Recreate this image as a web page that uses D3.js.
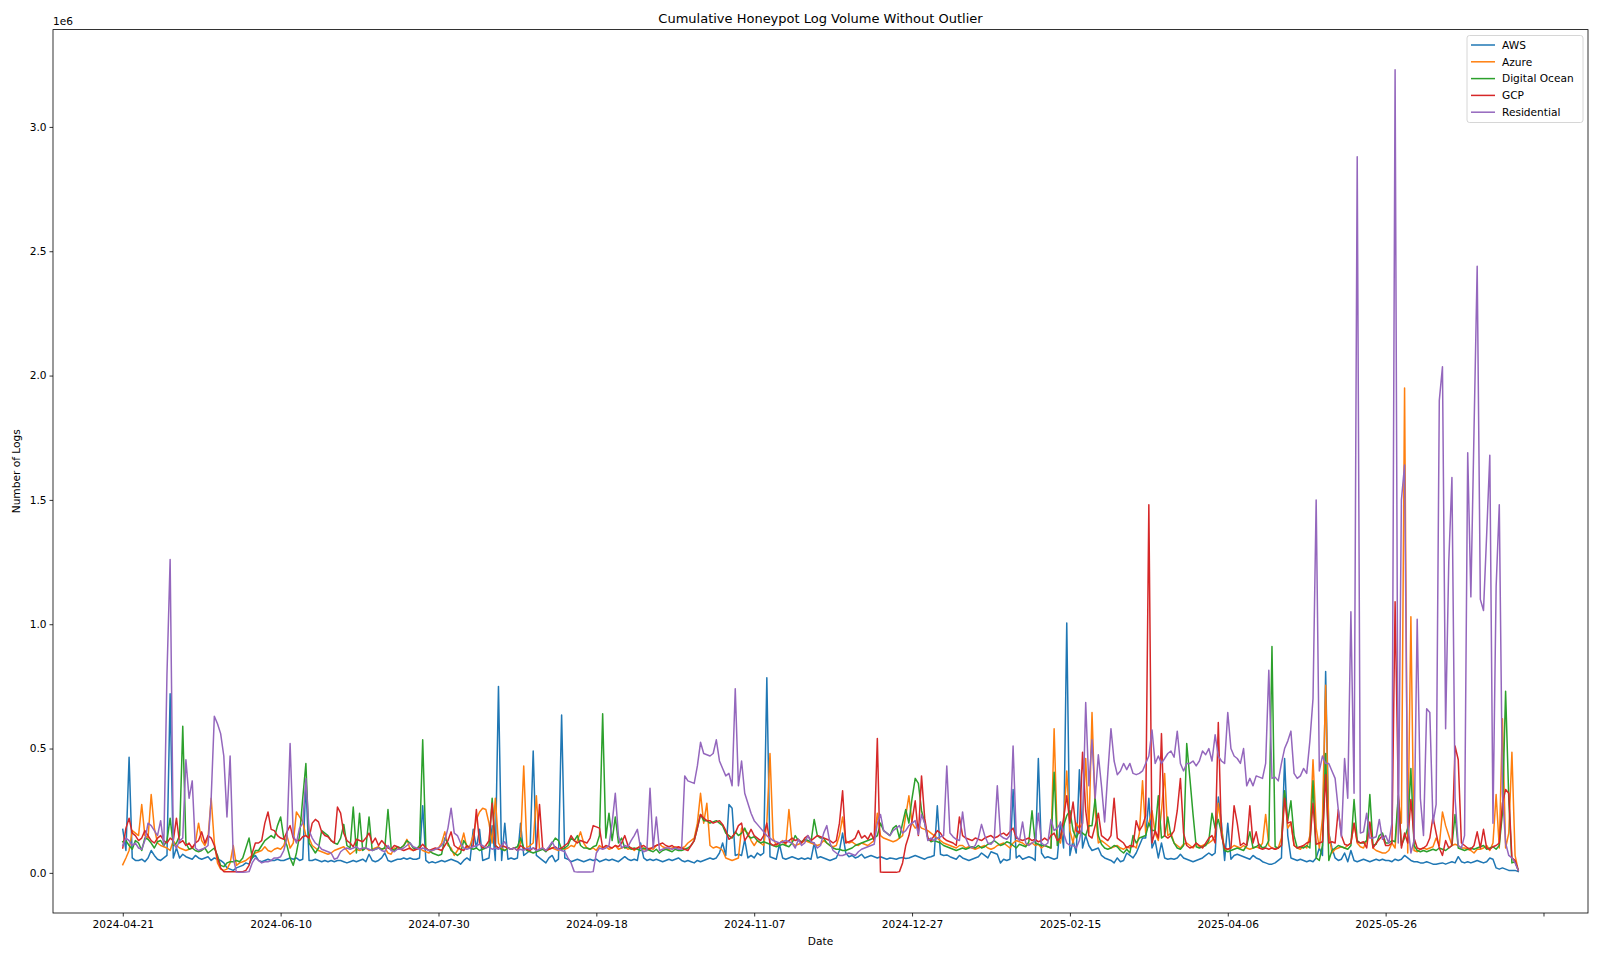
<!DOCTYPE html>
<html>
<head>
<meta charset="utf-8">
<script src="https://cdn.jsdelivr.net/npm/d3@7"></script>
<style>
  body { margin: 0; background: #ffffff; }
  svg { display: block; }
  text { font-family: "DejaVu Sans", sans-serif; fill: #000; }
</style>
</head>
<body>
<svg id="chart" width="1600" height="960"></svg>
<script>
// ---------------- DATA (values in thousands of logs, one per day) ----------------
const startDate = "2024-04-21";
const seriesNames = ["AWS", "Azure", "Digital Ocean", "GCP", "Residential"];
const tickDates = ["2024-04-21","2024-06-10","2024-07-30","2024-09-18","2024-11-07","2024-12-27","2025-02-15","2025-04-06","2025-05-26","2025-07-15"];
const tickLabels = ["2024-04-21","2024-06-10","2024-07-30","2024-09-18","2024-11-07","2024-12-27","2025-02-15","2025-04-06","2025-05-26",""];
const yTicks = [0, 500, 1000, 1500, 2000, 2500, 3000];
const yTickLabels = ["0.0", "0.5", "1.0", "1.5", "2.0", "2.5", "3.0"];

const aws = [
175,90,465,60,50,50,55,45,60,90,70,55,50,60,70,720,60,100,60,75,65,60,55,70,60,55,60,65,50,60,55,50,40,20,15,10,20,25,30,40,35,60,70,
50,45,50,55,50,50,55,50,50,55,60,55,60,50,55,360,50,50,55,50,45,50,45,50,45,50,50,45,40,45,50,45,50,55,45,75,50,45,50,60,80,50,45,50,55,
55,60,55,60,55,55,60,270,50,40,45,40,45,50,45,50,55,50,45,35,50,60,50,175,100,175,50,55,60,190,50,750,50,200,55,60,55,60,200,70,80,90,490,70,
60,50,40,60,70,45,55,635,60,55,45,50,55,50,45,50,55,50,55,45,50,55,50,55,50,45,55,65,55,50,55,50,120,60,50,55,50,55,50,45,50,55,50,55,60,
50,45,50,45,40,50,45,50,55,60,55,60,80,120,70,275,260,70,75,70,135,60,70,60,80,70,80,785,65,60,55,115,60,55,60,65,60,55,60,55,60,55,120,60,65,
60,55,50,55,60,90,160,80,65,70,60,65,75,60,65,70,65,60,65,60,55,60,58,55,60,62,58,60,65,70,65,60,55,62,65,70,270,75,70,72,65,60,55,70,
60,55,50,55,60,65,80,70,60,85,80,75,40,55,50,55,335,60,70,55,60,65,60,50,460,80,60,65,60,55,60,205,100,1005,70,130,80,415,100,150,110,90,95,100,70,
60,55,50,40,60,45,50,80,70,60,80,110,140,140,300,100,130,60,120,60,55,58,55,60,75,60,55,50,45,50,55,60,70,80,70,80,305,200,50,200,55,70,75,70,65,
60,55,70,60,55,45,40,35,35,40,50,60,460,150,60,55,50,55,50,45,50,45,60,100,70,810,160,100,60,50,55,80,45,90,50,45,50,55,50,45,50,55,50,55,50,
50,45,55,50,55,70,60,50,45,45,40,40,45,40,35,35,38,40,35,40,45,40,65,45,40,45,40,45,50,45,40,45,60,55,20,15,20,15,10,10,10,5
];

const azure = [
33,60,90,170,160,150,275,150,140,315,180,120,110,105,100,90,130,110,100,95,90,95,100,120,200,130,110,140,300,120,40,15,10,15,40,110,30,40,45,50,60,70,80,
85,90,105,90,85,95,100,95,110,150,100,120,245,225,205,150,140,110,100,90,85,80,75,80,90,95,100,105,90,75,85,95,90,95,100,90,95,100,105,95,100,80,75,100,95,
100,110,135,95,90,95,100,90,85,80,90,95,100,120,165,110,100,70,90,110,160,100,110,150,215,245,260,255,200,120,300,120,100,90,100,95,100,90,120,430,100,110,120,310,
95,100,90,95,100,95,90,100,95,100,110,105,130,165,120,100,95,100,90,110,100,105,95,100,110,95,100,105,95,100,90,100,110,95,90,100,95,110,115,105,100,95,100,105,100,
100,105,120,130,140,200,320,200,280,110,100,105,100,90,60,55,50,55,60,180,170,160,130,110,130,120,110,200,480,140,110,120,130,110,255,120,110,115,120,130,125,120,115,110,115,
130,120,110,105,110,150,225,130,120,125,115,110,120,115,110,120,130,240,150,140,135,130,125,130,140,150,230,310,200,180,195,180,175,170,160,150,140,130,120,115,110,105,100,110,
110,100,105,100,95,100,105,110,100,95,100,110,115,120,110,100,120,130,125,120,110,115,120,110,115,100,110,105,100,580,140,120,200,410,170,120,200,180,200,460,160,645,250,120,130,
120,110,100,105,110,100,95,105,100,110,100,160,370,160,200,250,160,130,250,400,150,160,120,110,100,115,120,110,100,120,105,110,115,120,130,150,280,180,90,95,100,110,105,100,110,
100,95,100,105,100,120,235,110,100,95,100,140,320,180,200,110,100,95,110,100,150,455,180,100,220,755,160,80,95,100,105,100,110,120,200,120,105,100,130,200,100,90,85,80,80,
90,120,100,300,200,1950,80,1030,90,85,95,100,95,100,105,140,110,245,190,150,110,115,110,100,100,95,90,80,95,95,100,110,90,120,315,100,620,100,160,485,70,10
];

const digitalOcean = [
125,130,110,95,130,120,90,140,135,120,100,125,130,110,130,220,110,120,150,590,120,95,100,90,85,90,100,80,90,100,70,30,25,40,45,45,50,45,60,100,140,60,90,
90,110,130,140,150,140,190,225,140,110,60,30,80,150,300,440,120,100,80,100,170,160,150,130,120,115,140,195,110,100,265,80,240,90,100,225,90,95,100,95,100,255,100,90,105,
100,110,130,120,100,95,110,535,100,90,80,75,70,75,140,120,90,80,70,80,130,110,100,95,100,90,95,100,110,300,110,100,95,90,100,95,100,105,140,100,90,85,80,85,
90,95,85,100,120,140,130,95,100,110,140,130,150,110,100,100,95,105,110,150,640,140,240,130,225,120,140,100,105,95,100,95,90,100,95,90,85,95,80,90,95,90,85,95,90,
90,95,100,110,130,180,235,210,210,200,205,210,200,190,160,150,140,165,150,160,180,150,140,145,130,120,125,120,115,110,105,110,115,110,105,120,150,130,125,135,130,125,215,150,140,
140,120,110,100,95,95,90,90,95,100,110,115,120,125,130,135,140,150,200,170,160,150,180,190,140,200,255,200,300,380,360,250,200,140,125,130,125,120,110,105,100,95,90,95,
100,95,100,105,100,110,100,105,115,120,130,120,110,115,125,120,110,100,115,110,105,125,250,120,115,110,110,105,100,405,110,150,190,230,250,170,140,170,160,150,190,190,300,150,115,
100,95,100,110,105,90,80,95,80,150,120,140,145,150,200,170,170,310,140,150,225,150,120,100,95,110,520,380,235,105,100,105,110,130,240,180,215,160,90,85,90,95,100,95,90,
110,165,100,105,115,100,105,130,910,105,100,110,330,210,290,150,100,105,100,110,100,370,60,50,110,480,50,90,100,110,105,100,95,110,295,130,120,120,130,315,110,115,150,160,120,
120,130,125,310,110,140,180,420,110,90,85,90,85,90,95,90,100,95,90,100,110,235,100,95,90,95,100,95,100,105,110,95,100,105,95,110,240,730,300,40,45,10
];

const gcp = [
100,180,220,160,150,130,140,170,150,130,120,140,150,130,120,140,130,220,120,130,110,120,100,120,130,165,120,150,140,110,60,20,5,5,5,5,5,5,5,10,30,80,120,
120,130,200,245,175,170,150,140,135,165,190,140,130,130,145,150,140,200,215,205,165,150,145,130,120,265,240,160,130,120,105,135,130,125,140,160,120,140,110,130,115,100,95,110,105,
95,90,95,100,90,95,100,115,100,90,95,100,95,90,110,130,165,110,100,95,90,110,100,110,255,120,100,110,130,280,110,100,110,105,100,95,100,90,110,100,95,90,100,95,
275,100,90,95,100,105,95,100,110,120,150,130,120,130,125,120,140,190,185,180,100,110,105,100,110,105,120,150,110,100,95,100,105,110,100,95,105,110,115,120,110,105,110,100,105,
100,95,90,110,130,180,235,220,210,210,200,205,210,195,170,135,145,160,190,200,130,150,175,150,140,130,150,200,120,110,115,120,125,120,130,140,130,135,120,140,150,130,140,150,145,
140,135,130,120,130,200,330,120,125,130,140,170,140,150,135,160,130,540,3,2,2,2,2,2,5,40,110,150,210,290,150,390,220,140,130,150,170,160,140,130,125,120,110,225,
150,140,135,130,140,135,130,140,145,150,140,145,155,160,150,165,180,140,135,130,135,140,130,135,125,130,140,130,150,160,130,140,220,310,200,285,170,160,485,250,150,140,190,240,150,
140,130,150,300,140,130,120,100,110,105,210,170,190,230,1480,120,170,140,560,150,140,150,170,250,380,160,110,100,105,120,110,100,120,140,150,120,605,150,100,95,100,270,200,110,120,
110,270,120,165,100,95,100,95,100,95,100,110,300,200,205,110,100,105,110,120,125,280,115,120,125,395,120,125,120,255,150,115,110,120,200,125,120,125,100,205,100,120,135,150,110,
110,120,1090,320,100,160,120,295,140,100,95,100,110,140,225,160,100,70,130,100,110,510,455,120,110,100,95,110,165,100,175,100,95,105,110,120,280,335,320,60,50,10
];

const residential = [
110,140,130,110,120,100,95,130,200,190,170,150,210,110,800,1260,120,100,130,140,455,300,370,100,90,95,100,110,300,630,600,560,470,225,470,60,3,2,2,3,5,40,60,
50,40,45,45,50,60,60,65,90,140,520,150,120,180,200,380,170,140,120,110,95,90,85,80,55,60,85,95,100,95,100,105,95,100,100,95,90,95,100,90,85,110,90,85,95,
95,100,110,120,105,100,95,100,95,90,90,95,100,110,130,180,260,160,150,120,100,95,100,105,110,115,110,100,105,95,100,95,110,125,100,95,100,90,95,90,100,95,100,90,
95,100,90,105,125,100,95,90,85,60,40,5,3,3,3,3,3,5,80,100,95,100,110,200,320,150,100,110,105,130,150,175,100,85,90,340,100,225,90,95,100,100,95,100,95,
95,390,370,365,360,430,525,480,475,470,480,535,450,420,390,400,350,740,350,450,320,280,240,210,195,180,165,150,140,130,125,120,125,130,125,120,100,135,110,120,150,125,120,100,110,
160,190,120,90,80,70,70,75,80,75,70,85,95,100,105,110,115,200,235,170,160,150,170,180,190,160,170,190,200,210,155,235,200,130,140,130,140,145,150,430,160,145,135,130,
245,140,110,100,110,140,195,150,120,115,130,350,150,140,135,150,510,150,130,205,120,110,120,130,240,120,110,120,215,170,180,200,160,120,110,110,100,130,200,685,350,535,300,475,350,
205,400,580,450,395,410,440,415,440,400,395,400,410,440,470,575,440,470,440,460,480,490,465,570,440,410,440,440,450,430,450,490,475,500,450,555,470,450,440,645,500,470,460,440,500,
350,380,350,390,385,380,440,815,380,385,370,440,500,530,570,400,380,390,420,400,530,700,1500,410,470,440,440,410,380,255,145,460,300,1050,320,2880,160,165,240,140,140,145,215,135,
150,120,200,3230,120,1500,1640,200,80,130,1020,300,150,660,645,200,275,1900,2035,580,1250,1590,300,110,100,150,1690,1110,1780,2440,1100,1055,1360,1680,200,1150,1480,320,120,70,60,40,10
];

const seriesValues = [aws, azure, digitalOcean, gcp, residential];
const seriesColors = ["#1f77b4", "#ff7f0e", "#2ca02c", "#d62728", "#9467bd"];

// ---------------- LAYOUT ----------------
const W = 1600, H = 960;
const plot = { left: 53, right: 1588, top: 29.6, bottom: 913 };
const fontTick = 10.6, fontTitle = 13;

const svg = d3.select("#chart");
const parse = d3.utcParse("%Y-%m-%d");
const t0 = parse(startDate);
const nDays = d3.max(seriesValues, a => a.length);
const dates = d3.range(nDays).map(i => d3.utcDay.offset(t0, i));

// x scale with matplotlib-like 5% margins
const xExt = d3.extent(dates);
const xSpan = xExt[1] - xExt[0];
const x = d3.scaleUtc()
  .domain([new Date(+xExt[0] - 0.05 * xSpan), new Date(+xExt[1] + 0.05 * xSpan)])
  .range([plot.left, plot.right]);

const allVals = seriesValues.flat();
const yMin = d3.min(allVals), yMax = d3.max(allVals);
const ySpan = yMax - yMin;
const y = d3.scaleLinear()
  .domain([Math.min(0, yMin) - 0.05 * ySpan, yMax + 0.05 * ySpan])
  .range([plot.bottom, plot.top]);

// series lines
const line = d3.line()
  .x((d, i) => x(dates[i]))
  .y(d => y(d));

const g = svg.append("g");
seriesValues.forEach((vals, k) => {
  g.append("path")
    .datum(vals)
    .attr("fill", "none")
    .attr("stroke", seriesColors[k])
    .attr("stroke-width", 1.5)
    .attr("stroke-linejoin", "round")
    .attr("stroke-linecap", "square")
    .attr("d", line);
});

// axes frame
svg.append("rect")
  .attr("x", plot.left).attr("y", plot.top)
  .attr("width", plot.right - plot.left).attr("height", plot.bottom - plot.top)
  .attr("fill", "none").attr("stroke", "#000").attr("stroke-width", 0.8);

// x axis
const xAxis = d3.axisBottom(x)
  .tickValues(tickDates.map(parse))
  .tickFormat((d, i) => tickLabels[i])
  .tickSize(3.5).tickPadding(4);
const gx = svg.append("g").attr("transform", `translate(0,${plot.bottom})`).call(xAxis);
gx.select(".domain").remove();
gx.selectAll(".tick line").attr("stroke", "#000").attr("stroke-width", 0.8);
gx.selectAll(".tick text").attr("font-size", fontTick).attr("font-family", "DejaVu Sans").attr("fill", "#000");

// y axis
const yAxis = d3.axisLeft(y)
  .tickValues(yTicks)
  .tickFormat((d, i) => yTickLabels[i])
  .tickSize(3.5).tickPadding(3);
const gy = svg.append("g").attr("transform", `translate(${plot.left},0)`).call(yAxis);
gy.select(".domain").remove();
gy.selectAll(".tick line").attr("stroke", "#000").attr("stroke-width", 0.8);
gy.selectAll(".tick text").attr("font-size", fontTick).attr("font-family", "DejaVu Sans").attr("fill", "#000");

// offset text
svg.append("text").attr("x", plot.left).attr("y", 24.5)
  .attr("font-size", fontTick).text("1e6");

// title
svg.append("text").attr("x", (plot.left + plot.right) / 2).attr("y", 23)
  .attr("text-anchor", "middle").attr("font-size", fontTitle)
  .text("Cumulative Honeypot Log Volume Without Outlier");

// axis labels
svg.append("text").attr("x", (plot.left + plot.right) / 2).attr("y", 945)
  .attr("text-anchor", "middle").attr("font-size", fontTick).text("Date");
svg.append("text")
  .attr("transform", `translate(20,${(plot.top + plot.bottom) / 2}) rotate(-90)`)
  .attr("text-anchor", "middle").attr("font-size", fontTick).text("Number of Logs");

// legend
const lg = svg.append("g");
const lgX = 1467, lgY = 35.5, lgW = 116, lgH = 87;
lg.append("rect").attr("x", lgX).attr("y", lgY).attr("width", lgW).attr("height", lgH)
  .attr("rx", 2.5).attr("fill", "#fff").attr("fill-opacity", 0.8)
  .attr("stroke", "#cccccc").attr("stroke-width", 0.8);
seriesNames.forEach((name, k) => {
  const cy = 45 + k * 16.8;
  lg.append("line").attr("x1", lgX + 4).attr("x2", lgX + 28).attr("y1", cy).attr("y2", cy)
    .attr("stroke", seriesColors[k]).attr("stroke-width", 1.5);
  lg.append("text").attr("x", lgX + 35).attr("y", cy).attr("dy", "0.35em")
    .attr("font-size", fontTick).text(name);
});
</script>
</body>
</html>
